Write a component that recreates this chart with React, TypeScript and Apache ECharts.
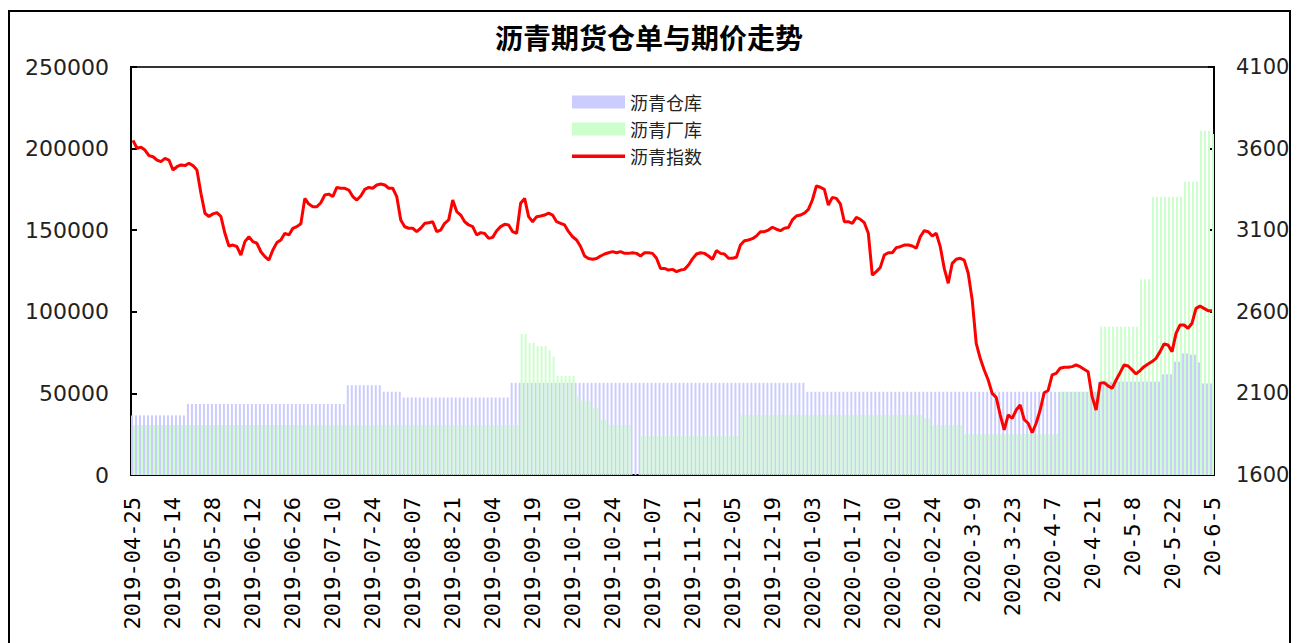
import React, { useEffect, useRef } from "react";
import * as echarts from "echarts";

// ---- calendar (Chinese futures trading days) ----
const START_DATE = "2019-04-25";
const END_DATE = "2020-06-05";
const HOLIDAYS = [
  "2019-05-01", "2019-05-02", "2019-05-03", "2019-06-07", "2019-09-13",
  "2019-10-01", "2019-10-02", "2019-10-03", "2019-10-04", "2019-10-07",
  "2020-01-01", "2020-01-24", "2020-01-27", "2020-01-28", "2020-01-29",
  "2020-01-30", "2020-01-31", "2020-04-06", "2020-05-01", "2020-05-04", "2020-05-05",
];

// ---- series values ----
// 沥青指数 (right axis), one value per trading day
const priceIndex = [
  3650, 3602, 3608, 3591, 3557, 3550, 3530, 3520, 3540, 3530,
  3469, 3489, 3500, 3496, 3510, 3496, 3469, 3326, 3204, 3184,
  3200, 3208, 3184, 3081, 3003, 3009, 3000, 2948, 3030, 3060,
  3030, 3020, 2968, 2938, 2917, 2979, 3024, 3040, 3081, 3071,
  3111, 3122, 3140, 3295, 3260, 3244, 3244, 3268, 3316, 3321,
  3306, 3362, 3357, 3357, 3346, 3306, 3285, 3310, 3350, 3362,
  3357, 3377, 3383, 3377, 3357, 3357, 3306, 3163, 3121, 3112,
  3112, 3091, 3112, 3142, 3146, 3152, 3091, 3101, 3142, 3163,
  3285, 3214, 3193, 3152, 3132, 3122, 3071, 3085, 3080, 3050,
  3056, 3097, 3122, 3136, 3132, 3091, 3081, 3265, 3295, 3183,
  3152, 3183, 3187, 3193, 3204, 3193, 3152, 3142, 3132, 3091,
  3060, 3040, 3000, 2942, 2926, 2922, 2926, 2942, 2954, 2962,
  2969, 2962, 2969, 2958, 2958, 2962, 2958, 2942, 2962, 2962,
  2958, 2928, 2866, 2866, 2856, 2860, 2846, 2856, 2860, 2887,
  2924, 2954, 2962, 2958, 2942, 2922, 2975, 2958, 2954, 2928,
  2928, 2934, 3009, 3036, 3040, 3048, 3064, 3091, 3091, 3101,
  3118, 3106, 3097, 3112, 3116, 3163, 3187, 3193, 3204, 3228,
  3285, 3371, 3363, 3350, 3254, 3301, 3295, 3261, 3152, 3152,
  3142, 3179, 3167, 3146, 3081, 2825, 2846, 2872, 2948, 2962,
  2962, 2993, 2999, 3009, 3009, 3003, 2989, 3060, 3097, 3091,
  3064, 3081, 2999, 2866, 2775, 2897, 2922, 2928, 2917, 2836,
  2672, 2407, 2315, 2243, 2182, 2100, 2076, 1968, 1876, 1968,
  1947, 1998, 2029, 1940, 1917, 1859, 1917, 1998, 2104, 2118,
  2213, 2223, 2254, 2260, 2260, 2264, 2274, 2264, 2248, 2233,
  2080, 1998, 2162, 2166, 2146, 2131, 2182, 2227, 2274, 2268,
  2244, 2219, 2240, 2264, 2280, 2295, 2315, 2356, 2403, 2397,
  2356, 2468, 2519, 2519, 2499, 2530, 2621, 2635, 2621, 2607,
  2607,
];

// 沥青仓库 (left axis): [value, number of consecutive trading days]
const warehouseRuns = [
  [36500, 14], [43500, 40], [55000, 9], [51000, 5], [47500, 27],
  [56500, 74], [51000, 73], [57200, 16], [61700, 3], [69400, 2],
  [74500, 2], [73700, 2], [69000, 1], [56100, 3],
];

// 沥青厂库 (left axis): [value, number of consecutive trading days]
const factoryRuns = [
  [30600, 97], [86400, 2], [81000, 2], [79000, 3], [76500, 1],
  [72500, 1], [60700, 5], [48000, 1], [45500, 3], [41000, 2],
  [33700, 2], [30600, 6], [0, 2], [23900, 25], [36800, 46],
  [34700, 2], [30600, 8], [25100, 24], [51000, 10], [90900, 10],
  [119900, 3], [170500, 8], [179700, 4], [211000, 3], [209000, 1],
];

const TITLE = "沥青期货仓单与期价走势";
const SERIES_NAMES = ["沥青仓库", "沥青厂库", "沥青指数"];

// ---- helpers ----
function expandRuns(runs: number[][]): number[] {
  const out: number[] = [];
  runs.forEach(([v, n]) => {
    for (let k = 0; k < n; k++) out.push(v);
  });
  return out;
}

function pad(n: number) {
  return n < 10 ? "0" + n : "" + n;
}

function buildCategories(): string[] {
  const hol = new Set(HOLIDAYS);
  const out: string[] = [];
  const [sy, sm, sd] = START_DATE.split("-").map(Number);
  const [ey, em, ed] = END_DATE.split("-").map(Number);
  const d = new Date(Date.UTC(sy, sm - 1, sd));
  const end = new Date(Date.UTC(ey, em - 1, ed));
  while (d.getTime() <= end.getTime()) {
    const wd = d.getUTCDay();
    const y = d.getUTCFullYear();
    const m = d.getUTCMonth() + 1;
    const dd = d.getUTCDate();
    const iso = `${y}-${pad(m)}-${pad(dd)}`;
    if (wd !== 0 && wd !== 6 && !hol.has(iso)) {
      let label: string;
      if (y === 2019 || (y === 2020 && m < 3)) label = iso;
      else if (y === 2020 && (m === 3 || (m === 4 && dd <= 7))) label = `${y}-${m}-${dd}`;
      else label = `${String(y).slice(2)}-${m}-${dd}`;
      out.push(label);
    }
    d.setUTCDate(d.getUTCDate() + 1);
  }
  return out;
}

const categories = buildCategories();
const warehouse = expandRuns(warehouseRuns);
const factory = expandRuns(factoryRuns);

export default function App() {
  const ref = useRef<HTMLDivElement>(null);

  useEffect(() => {
    if (!ref.current) return;
    const chart = echarts.init(ref.current, undefined, { renderer: "svg" });
    const axisLabelFont = {
      fontFamily: "DejaVu Sans",
      fontSize: 21,
      color: "#222",
      formatter: (v: number) => String(v),
    };
    chart.setOption({
      animation: false,
      backgroundColor: "#fff",
      title: {
        text: TITLE,
        left: "center",
        top: 18,
        textStyle: {
          fontFamily: "Noto Sans CJK SC",
          fontWeight: "bold",
          fontSize: 28,
          color: "#000",
        },
      },
      graphic: [
        {
          type: "rect",
          shape: { x: 9, y: 11, width: 1281, height: 640 },
          style: { fill: "none", stroke: "#000", lineWidth: 2 },
          silent: true,
          z: 100,
        },
      ],
      legend: {
        orient: "vertical",
        left: 567,
        top: 88,
        itemWidth: 53,
        itemHeight: 13,
        itemGap: 9,
        textStyle: {
          fontFamily: "Noto Sans CJK SC",
          fontSize: 18,
          lineHeight: 18,
          color: "#222",
        },
        data: [
          { name: SERIES_NAMES[0], icon: "rect" },
          { name: SERIES_NAMES[1], icon: "rect" },
          {
            name: SERIES_NAMES[2],
            icon: "path://M0,5H53V8.5H0Z M0,0H0.01V13H0Z",
          },
        ],
      },
      grid: {
        left: 131,
        right: 84,
        top: 67,
        bottom: 168,
        show: true,
        borderColor: "#333",
        borderWidth: 2,
        containLabel: false,
      },
      xAxis: {
        type: "category",
        data: categories,
        boundaryGap: true,
        axisLine: { lineStyle: { color: "#000", width: 2 } },
        axisTick: { show: false },
        axisLabel: {
          interval: 9,
          rotate: 90,
          margin: 22,
          fontFamily: "DejaVu Sans Mono",
          fontSize: 22,
          color: "#000",
        },
        splitLine: { show: false },
      },
      yAxis: [
        {
          type: "value",
          min: 0,
          max: 250000,
          interval: 50000,
          position: "left",
          axisLine: { show: true, lineStyle: { color: "#000", width: 2 } },
          axisTick: { show: true, inside: true, length: 6, lineStyle: { color: "#000", width: 2 } },
          axisLabel: { ...axisLabelFont, fontSize: 22, margin: 22 },
          splitLine: { show: false },
        },
        {
          type: "value",
          min: 1600,
          max: 4100,
          interval: 500,
          position: "right",
          axisLine: { show: true, lineStyle: { color: "#000", width: 2 } },
          axisTick: { show: true, inside: true, length: 6, lineStyle: { color: "#000", width: 2 } },
          axisLabel: { ...axisLabelFont, margin: 22 },
          splitLine: { show: false },
        },
      ],
      series: [
        {
          name: SERIES_NAMES[0],
          type: "bar",
          data: warehouse,
          yAxisIndex: 0,
          barWidth: 2,
          barGap: "0%",
          itemStyle: { color: "#CCCCFF" },
          emphasis: { disabled: true },
        },
        {
          name: SERIES_NAMES[1],
          type: "bar",
          data: factory,
          yAxisIndex: 0,
          barWidth: 2,
          barGap: "0%",
          itemStyle: { color: "#CCFFCC" },
          emphasis: { disabled: true },
        },
        {
          name: SERIES_NAMES[2],
          type: "line",
          data: priceIndex,
          yAxisIndex: 1,
          symbol: "none",
          showSymbol: false,
          lineStyle: { color: "#FF0000", width: 3 },
          itemStyle: { color: "#FF0000" },
          z: 5,
        },
      ],
    });
    return () => chart.dispose();
  }, []);

  return (
    <div
      ref={ref}
      style={{ position: "fixed", left: 0, top: 0, width: 1298, height: 643 }}
    />
  );
}
